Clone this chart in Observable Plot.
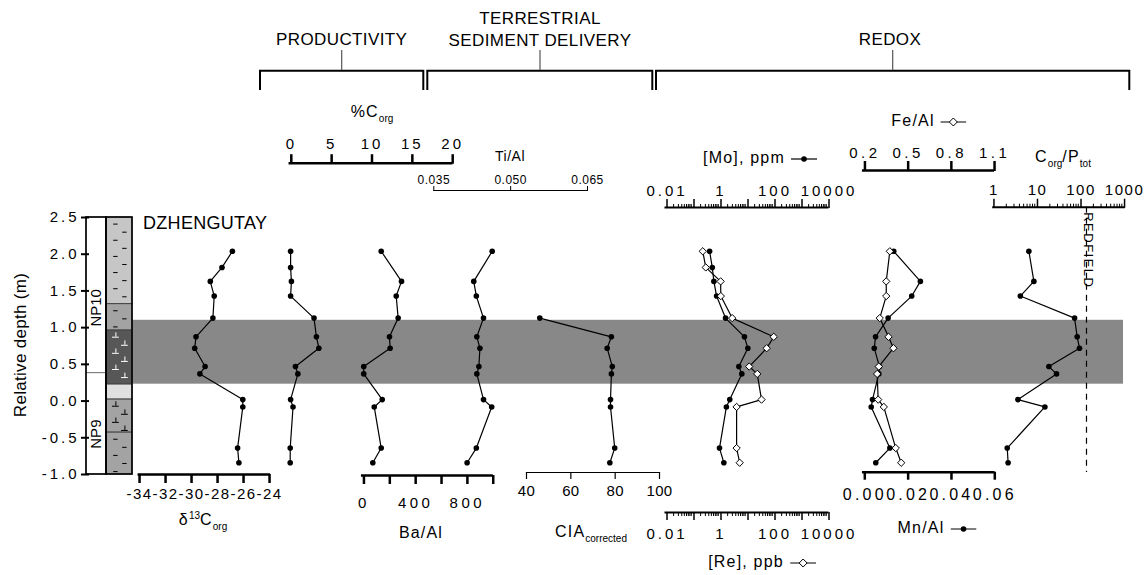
<!DOCTYPE html>
<html><head><meta charset="utf-8">
<script src="https://cdn.jsdelivr.net/npm/d3@7"></script>
<script src="https://cdn.jsdelivr.net/npm/@observablehq/plot@0.6"></script>
<style>
body{margin:0;background:#fff;}
#wrap{position:relative;width:1146px;height:575px;overflow:hidden;font-family:"Liberation Sans",Arial,Helvetica,sans-serif;color:#000;background:#fff;}
#wrap > svg{position:absolute;left:0;top:0;background:transparent !important;overflow:visible;}
.lbl{position:absolute;white-space:nowrap;transform:translate(-50%,-50%);font-size:16px;letter-spacing:1.2px;line-height:1;}
.lbl sub{font-size:10px;vertical-align:-5px;letter-spacing:0;line-height:0;}
.lbl sup{font-size:10px;vertical-align:6px;letter-spacing:0;line-height:0;}
.head{font-size:17px;letter-spacing:0.4px;}
.leg{display:inline-block;vertical-align:middle;margin-left:6px;position:static;}
</style></head>
<body>
<div id="wrap"></div>
<script>
// ---------------- data ----------------
const depth   = [2.04, 1.82, 1.63, 1.43, 1.13, 0.875, 0.72, 0.47, 0.37, 0.02, -0.08, -0.64, -0.84];
const d13C    = [-26.8, -27.6, -28.5, -28.2, -28.3, -29.6, -29.7, -28.9, -29.3, -26.0, -26.0, -26.4, -26.3];
const Corg    = [0.1, 0.1, 0.2, 0.1, 3.0, 3.3, 3.6, 0.7, 1.0, 0.1, 0.4, 0.05, 0.05];
const BaAl    = [147, null, 304, 263, 278, 211, 216, 12, 12, 155, 93, 147, 82];
const TiAl    = [0.0464, null, 0.0428, 0.0433, 0.0447, 0.0434, 0.0440, 0.0438, 0.0434, 0.0447, 0.0463, 0.0433, 0.0415];
const CIA     = [null, null, null, null, 46.0, 78.3, 76.4, 78.7, 78.3, 77.9, 77.9, 79.8, 77.6];
const Mo      = [0.43, 0.54, 0.62, 0.78, 1.67, 8.4, 11.2, 5.2, 6.7, 2.4, 1.8, 1.0, 1.45];
const Re      = [0.24, 0.31, 1.1, 1.12, 2.95, 102, 56, 12.6, 25, 36, 4.3, 4.3, 5.6];
const FeAl    = [0.385, null, 0.36, 0.36, 0.315, 0.376, 0.41, 0.308, 0.297, 0.304, 0.343, 0.426, 0.464];
const MnAl    = [0.0141, null, 0.0264, 0.0224, 0.0115, 0.0057, 0.0051, 0.0075, 0.0072, 0.0043, 0.0037, 0.0123, 0.0058];
const CorgP   = [6.6, null, 8.6, 4.2, 74, 85, 96, 19, 28.5, 3.7, 15.4, 2.1, 2.2];
const redfield = 139;

// shaded interval
const bandTop = 1.1, bandBase = 0.23;

// lithology units
const lithTop  = [2.5, 1.32, 0.96, 0.225, 0.02, -0.43];
const lithBase = [1.32, 0.96, 0.225, 0.02, -0.43, -1.0];
const lithType = ["mudstone", "marly mudstone", "dark marl", "clay", "marl", "marly mudstone "];
const lithMark = ["dash", "dash", "tee", "none", "tee", "dash"];
// nannofossil zones
const zoneName = ["NP10", "NP9"];
const zoneTop  = [2.5, 0.38];
const zoneBase = [0.38, -1.0];
const zoneLabelDepth = [1.27, -0.45];

// axis ticks
const yTicks    = [-1.0, -0.5, 0.0, 0.5, 1.0, 1.5, 2.0, 2.5];
const d13Ticks  = [-34, -32, -30, -28, -26, -24];
const corgTicks = [0, 5, 10, 15, 20];
const baTicks   = [0, 200, 400, 600, 800, 1000];
const baLabels  = [0, 400, 800];
const tiTicks   = [0.035, 0.050, 0.065];
const ciaTicks  = [40, 60, 80, 100];
const moLabels  = [0.01, 1, 100, 10000];
const feTicks   = [0.2, 0.5, 0.8, 1.1];
const mnTicks   = [0.00, 0.02, 0.04, 0.06];
const cpLabels  = [1, 10, 100, 1000];

// ---------------- helpers ----------------
const W = 1146, H = 575;
const wrap = document.getElementById("wrap");
const FONT = '"Liberation Sans", Arial, Helvetica, sans-serif';
const yScale = () => ({domain: [-1, 2.5], range: [474, 217], axis: null, label: null});
const rows = (vals) => depth.map((d, i) => ({depth: d, v: vals[i]})).filter(r => r.v != null);

function mk(o) {
  const size = o.size ?? 15, sp = o.spacing ?? 0;
  const svg = Plot.plot({
    width: W, height: H,
    marginLeft: o.x0 ?? 0, marginRight: W - (o.x1 ?? W),
    marginTop: o.top ?? 0, marginBottom: H - (o.bottom ?? H),
    x: {...(o.x || {}), label: null, ...(o.noAxis ? {axis: null} : {})},
    y: {...(o.y ?? yScale()), label: null},
    color: o.color,
    style: {fontFamily: FONT, fontSize: size + "px", letterSpacing: sp + "px", background: "transparent", overflow: "visible", color: "black"},
    marks: o.marks
  });
  wrap.appendChild(svg);
}
function logMinors(e0, e1) {
  const out = [];
  for (let e = e0; e < e1; e++) for (let k = 2; k <= 9; k++) out.push(+(k * Math.pow(10, e)).toPrecision(3));
  return out;
}
function decades(e0, e1) { const o = []; for (let e = e0; e <= e1; e++) o.push(+Math.pow(10, e).toPrecision(3)); return o; }
const series = (vals) => [
  Plot.line(rows(vals), {x: "v", y: "depth", stroke: "black", strokeWidth: 1.2}),
  Plot.dot(rows(vals), {x: "v", y: "depth", r: 2.8, fill: "black"})
];
const ax = (opts) => Plot.axisX({label: null, ...opts});

// ---------------- shaded band ----------------
mk({x0: 132, x1: 1123, noAxis: true, marks: [
  Plot.rect([{t: bandTop, b: bandBase}], {y1: "b", y2: "t", fill: "#888888"})
]});

// ---------------- lithology column ----------------
const units = lithTop.map((t, i) => ({top: t, base: lithBase[i], type: lithType[i], mark: lithMark[i]}));
const pat = [];
units.forEach(u => {
  if (u.mark === "none") return;
  let k = 0;
  for (let d = u.top - 0.09; d > u.base + 0.03; d -= 0.11, k++) pat.push({depth: d, x: k % 2 ? 1.92 : 1.47, mark: u.mark, dark: u.type === "dark marl"});
});
const zones = zoneName.map((n, i) => ({name: n, top: zoneTop[i], base: zoneBase[i], at: zoneLabelDepth[i]}));
mk({x0: 86, x1: 132, x: {domain: [0, 2.3]}, noAxis: true,
  color: {domain: ["mudstone", "marly mudstone", "dark marl", "clay", "marl", "marly mudstone "],
          range: ["#c6c6c6", "#a3a3a3", "#575757", "#e0e0e0", "#a3a3a3", "#a3a3a3"]},
  size: 15,
  marks: [
    Plot.rect(zones, {x1: 0, x2: 1, y1: "base", y2: "top", fill: "white", stroke: "#777", strokeWidth: 1}),
    Plot.rect(units, {x1: 1, x2: 2.3, y1: "base", y2: "top", fill: "type", stroke: "#444", strokeWidth: 1}),
    Plot.ruleY(pat.filter(p => p.mark === "dash"), {y: "depth", x1: d => d.x - 0.11, x2: d => d.x + 0.11, stroke: "black", strokeWidth: 1}),
    Plot.ruleY(pat.filter(p => p.mark === "tee"), {y: "depth", x1: d => d.x - 0.17, x2: d => d.x + 0.17, stroke: d => d.dark ? "white" : "black", strokeWidth: 1}),
    Plot.ruleX(pat.filter(p => p.mark === "tee"), {x: "x", y1: "depth", y2: d => d.depth + 0.06, stroke: d => d.dark ? "white" : "black", strokeWidth: 1}),
    Plot.rect([{t: 2.5, b: -1}], {x1: 0, x2: 1, y1: "b", y2: "t", fill: "none", stroke: "black", strokeWidth: 1.6}),
    Plot.rect([{t: 2.5, b: -1}], {x1: 1, x2: 2.3, y1: "b", y2: "t", fill: "none", stroke: "black", strokeWidth: 1.6}),
    Plot.text(zones, {x: 0.5, y: "at", text: "name", rotate: -90, fontSize: 15})
  ]});

// ---------------- y axis ----------------
mk({x0: 86, x1: 132, y: {domain: [-1, 2.5], range: [474, 217]}, size: 15, spacing: 3, noAxis: true,
  marks: [Plot.axisY({anchor: "left", label: null, ticks: yTicks, tickSize: 8, tickPadding: 2, strokeWidth: 2, tickFormat: d => d.toFixed(1), dx: 3})]});

// ---------------- δ13C ----------------
mk({x0: 138.3, x1: 268.3, bottom: 474, x: {domain: [-34, -24]}, size: 15, spacing: 1.5,
  marks: [
    Plot.frame({anchor: "bottom", strokeWidth: 2.5}),
    ax({anchor: "bottom", ticks: d13Ticks, tickSize: 9, tickPadding: 5, strokeWidth: 2.5, tickFormat: d => String(d), dx: 0.75}),
    ...series(d13C)
  ]});

// ---------------- %Corg ----------------
mk({x0: 289.3, x1: 450.7, top: 162.7, x: {domain: [0, 20]}, size: 15, spacing: 3,
  marks: [
    Plot.frame({anchor: "top", strokeWidth: 2.5}),
    ax({anchor: "top", ticks: corgTicks, tickSize: 9.5, tickPadding: 5, strokeWidth: 2.5, tickFormat: d => String(d), dx: 1.5}),
    ...series(Corg)
  ]});

// ---------------- Ba/Al ----------------
mk({x0: 361.7, x1: 491, bottom: 475, x: {domain: [0, 1000]}, size: 15, spacing: 3.5,
  marks: [
    Plot.frame({anchor: "bottom", strokeWidth: 2.5}),
    ax({anchor: "bottom", ticks: baTicks, tickSize: 9, tickPadding: 13, strokeWidth: 2.5, tickFormat: d => baLabels.includes(d) ? String(d) : "", dx: 1.75}),
    ...series(BaAl)
  ]});

// ---------------- Ti/Al ----------------
mk({x0: 433.3, x1: 587, top: 190, x: {domain: [0.035, 0.065]}, size: 12, spacing: 0.5,
  marks: [
    Plot.frame({anchor: "top", strokeWidth: 1}),
    ax({anchor: "top", ticks: tiTicks, tickSize: 5, tickPadding: 2, strokeWidth: 1, tickFormat: d => d.toFixed(3)}),
    ...series(TiAl)
  ]});

// ---------------- CIA ----------------
mk({x0: 526, x1: 659, bottom: 472, x: {domain: [40, 100]}, size: 15, spacing: 0.3,
  marks: [
    Plot.frame({anchor: "bottom", strokeWidth: 1.2}),
    ax({anchor: "bottom", ticks: ciaTicks, tickSize: 7, tickPadding: 6, strokeWidth: 1.2, tickFormat: d => String(d)}),
    ...series(CIA)
  ]});

// ---------------- Mo / Re ----------------
mk({x0: 665, x1: 827, top: 207, bottom: 512, x: {type: "log", domain: [0.01, 10000]}, size: 15, spacing: 3,
  marks: [
    Plot.frame({anchor: "top", strokeWidth: 2}),
    Plot.frame({anchor: "bottom", strokeWidth: 2}),
    ax({anchor: "top", ticks: logMinors(-2, 4), tickSize: 4, strokeWidth: 1, tickFormat: () => ""}),
    ax({anchor: "top", ticks: decades(-2, 4), tickSize: 9, tickPadding: 3, strokeWidth: 1.5, tickFormat: d => moLabels.includes(d) ? String(d) : "", dx: 1.5}),
    ax({anchor: "bottom", ticks: logMinors(-2, 4), tickSize: 4, strokeWidth: 1, tickFormat: () => ""}),
    ax({anchor: "bottom", ticks: decades(-2, 4), tickSize: 8, tickPadding: 8, strokeWidth: 1.5, tickFormat: d => moLabels.includes(d) ? String(d) : "", dx: 1.5}),
    Plot.line(rows(Re), {x: "v", y: "depth", stroke: "black", strokeWidth: 1.2}),
    Plot.line(rows(Mo), {x: "v", y: "depth", stroke: "black", strokeWidth: 1.2}),
    Plot.dot(rows(Mo), {x: "v", y: "depth", r: 2.8, fill: "black"}),
    Plot.dot(rows(Re), {x: "v", y: "depth", symbol: "diamond2", r: 3.3, fill: "white", stroke: "black", strokeWidth: 1})
  ]
});

// ---------------- Fe/Al (top) ----------------
mk({x0: 862.7, x1: 992.3, top: 170, x: {domain: [0.2, 1.1]}, size: 15, spacing: 3.5,
  marks: [
    Plot.frame({anchor: "top", strokeWidth: 2.5}),
    ax({anchor: "top", ticks: feTicks, tickSize: 10, tickPadding: 3, strokeWidth: 2.5, tickFormat: d => d.toFixed(1), dx: 1.75}),
    Plot.line(rows(FeAl), {x: "v", y: "depth", stroke: "black", strokeWidth: 1.2})
  ]});

// ---------------- Mn/Al (bottom) ----------------
mk({x0: 862.7, x1: 992.7, bottom: 471.7, x: {domain: [0, 0.06]}, size: 16, spacing: 3.2,
  marks: [
    Plot.frame({anchor: "bottom", strokeWidth: 2.5}),
    ax({anchor: "bottom", ticks: mnTicks, tickSize: 8, tickPadding: 8, strokeWidth: 2.5, tickFormat: d => d.toFixed(2), dx: 1.6}),
    ...series(MnAl)
  ]});
// Fe/Al markers drawn above Mn line
mk({x0: 862.7, x1: 992.3, top: 170, x: {domain: [0.2, 1.1]}, noAxis: true,
  marks: [Plot.dot(rows(FeAl), {x: "v", y: "depth", symbol: "diamond2", r: 3.3, fill: "white", stroke: "black", strokeWidth: 1})]});

// ---------------- Corg/Ptot ----------------
mk({x0: 992.7, x1: 1123.3, top: 206.7, bottom: 472, x: {type: "log", domain: [1, 1000]}, size: 15, spacing: 1.5,
  marks: [
    Plot.frame({anchor: "top", strokeWidth: 2}),
    ax({anchor: "top", ticks: logMinors(0, 3), tickSize: 4, strokeWidth: 1, tickFormat: () => ""}),
    ax({anchor: "top", ticks: decades(0, 3), tickSize: 9, tickPadding: 3, strokeWidth: 1.5, tickFormat: d => cpLabels.includes(d) ? String(d) : "", dx: 0.75}),
    Plot.ruleX([redfield], {stroke: "black", strokeWidth: 1.2, strokeDasharray: "6,5"}),
    Plot.text(["REDFIELD"], {x: () => redfield, frameAnchor: "top", rotate: 90, textAnchor: "start", dx: 7, dy: 5, fontSize: 13}),
    ...series(CorgP)
  ]});
</script>
<script>
// ---------------- annotations (headings, brackets, titles) ----------------
(function(){
  const wrap = document.getElementById("wrap");
  const ns = "http://www.w3.org/2000/svg";
  const s = document.createElementNS(ns, "svg");
  s.setAttribute("width", 1146); s.setAttribute("height", 575);
  const brackets = [[260, 423.3, 341.7], [427.3, 652.3, 540], [656, 1129.3, 892.7]];
  let html = "";
  brackets.forEach(([a, b, c]) => {
    html += `<path d="M${a},90V70.7H${b}V90" fill="none" stroke="black" stroke-width="2"/>`;
    html += `<path d="M${c},50V70" stroke="#555" stroke-width="1.2"/>`;
  });
  s.innerHTML = html;
  wrap.appendChild(s);
  const dotSym = `<svg class="leg" width="26" height="10"><line x1="0" y1="5" x2="26" y2="5" stroke="black" stroke-width="1.2"/><circle cx="13" cy="5" r="2.8" fill="black"/></svg>`;
  const diaSym = `<svg class="leg" width="26" height="10"><line x1="0" y1="5" x2="26" y2="5" stroke="black" stroke-width="1.2"/><path d="M13,1L17,5L13,9L9,5Z" fill="white" stroke="black" stroke-width="1"/></svg>`;
  const labels = [
    ["PRODUCTIVITY", 341.7, 39, "head"],
    ["TERRESTRIAL", 540, 18, "head"],
    ["SEDIMENT DELIVERY", 540, 40, "head"],
    ["REDOX", 890, 39, "head"],
    ["%C<sub>org</sub>", 372, 112, ""],
    ["Ti/Al", 510, 156, "", "font-size:14px;letter-spacing:0.5px"],
    ["[Mo], ppm" + dotSym, 760, 158, ""],
    ["Fe/Al" + diaSym, 929, 121, ""],
    ["C<sub>org</sub>/P<sub>tot</sub>", 1063, 157, ""],
    ["δ<sup>13</sup>C<sub>org</sub>", 203, 520, ""],
    ["Ba/Al", 421, 533, ""],
    ["CIA<sub>corrected</sub>", 591, 532, ""],
    ["[Re], ppb" + diaSym, 762, 562, ""],
    ["Mn/Al" + dotSym, 937, 528, ""],
  ];
  labels.forEach(([t, x, y, cls, st]) => {
    const d = document.createElement("div");
    d.className = "lbl " + cls;
    d.style.left = x + "px"; d.style.top = y + "px";
    if (st) d.style.cssText += st;
    d.innerHTML = t;
    wrap.appendChild(d);
  });
  const dz = document.createElement("div");
  dz.className = "lbl"; dz.style.cssText += "left:143px;top:223px;transform:translate(0,-50%);font-size:18px;letter-spacing:0.3px";
  dz.textContent = "DZHENGUTAY"; wrap.appendChild(dz);
  const yl = document.createElement("div");
  yl.className = "lbl"; yl.style.cssText += "left:20px;top:345px;transform:translate(-50%,-50%) rotate(-90deg);font-size:17px;letter-spacing:0.3px";
  yl.textContent = "Relative depth (m)"; wrap.appendChild(yl);
})();
</script>
</body></html>
